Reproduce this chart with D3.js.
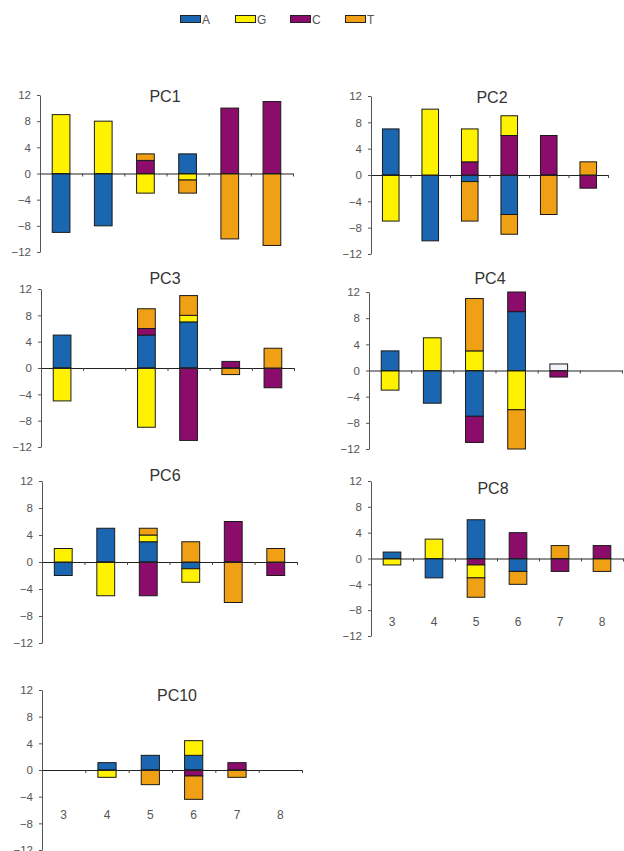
<!DOCTYPE html>
<html>
<head>
<meta charset="utf-8">
<script src="https://cdn.jsdelivr.net/npm/d3@7"></script>
<style>
  body { margin: 0; background: #fff; }
  svg { display: block; font-family: "Liberation Sans", Arial, sans-serif; }
</style>
</head>
<body>
<div id="container"></div>
<script>
const width = 624;
const height = 851;

// categories on the x axis
const categories = ["3", "4", "5", "6", "7", "8"];
const bases = ["A", "G", "C", "T"];          // legend order
const stackOrder = ["A", "C", "G", "T", "N"]; // order the segments pile up in
const yTicks = [-12, -8, -4, 0, 4, 8, 12];

// one row per category, values in [A, G, C, T] order
const pc1 = [[-9, 9, 0, 0], [-8, 8, 0, 0], [0, -3, 2, 1], [3, -1, 0, -2], [0, 0, 10, -10], [0, 0, 11, -11]];
const pc2 = [[7, -7, 0, 0], [-10, 10, 0, 0], [-1, 5, 2, -6], [-6, 3, 6, -3], [0, 0, 6, -6], [0, 0, -2, 2]];
const pc3 = [[5, -5, 0, 0], [0, 0, 0, 0], [5, -9, 1, 3], [7, 1, -11, 3], [0, 0, 1, -1], [0, 0, -3, 3]];
const pc4 = [[3, -3, 0, 0], [-5, 5, 0, 0], [-7, 3, -4, 8], [9, -6, 3, -6], [0, 0, -1, 0], [0, 0, 0, 0]];
const pc6 = [[-2, 2, 0, 0], [5, -5, 0, 0], [3, 1, -5, 1], [-1, -2, 0, 3], [0, 0, 6, -6], [0, 0, -2, 2]];
const pc8 = [[1, -1, 0, 0], [-3, 3, 0, 0], [6, -2, -1, -3], [-2, 0, 4, -2], [0, 0, -2, 2], [0, 0, 2, -2]];
const pc10 = [[0, 0, 0, 0], [1.1, -1.1, 0, 0], [2.2, 0, 0, -2.2], [2.2, 2.2, -0.9, -3.5], [0, 0, 1.1, -1.1], [0, 0, 0, 0]];
// PC4 has one empty (white) box at category 7
const pc4Blank = [0, 0, 0, 0, 1, 0];

const colors = { A: "#1a66b0", G: "#fff200", C: "#8c0c6c", T: "#f0a014", N: "#f4f2f8" };

// where each panel sits on the page
const panels = [
  { title: "PC1", values: pc1, x0: 40, x1: 293, top: 95, bottom: 252, tx: 165, ty: 102 },
  { title: "PC2", values: pc2, x0: 371, x1: 608, top: 96, bottom: 254, tx: 492, ty: 103 },
  { title: "PC3", values: pc3, x0: 41, x1: 294, top: 289, bottom: 447, tx: 165, ty: 284 },
  { title: "PC4", values: pc4, blank: pc4Blank, x0: 369, x1: 622, top: 292, bottom: 449, tx: 490, ty: 284 },
  { title: "PC6", values: pc6, x0: 42, x1: 297, top: 481, bottom: 643, tx: 165, ty: 481 },
  { title: "PC8", values: pc8, x0: 371, x1: 623, top: 481, bottom: 636, tx: 493, ty: 494, labelY: 626 },
  { title: "PC10", values: pc10, x0: 42, x1: 302, top: 690, bottom: 850, tx: 177, ty: 701, labelY: 819 }
];

const svg = d3.select("#container").append("svg")
  .attr("width", width)
  .attr("height", height);

// legend
const legend = svg.append("g").attr("transform", "translate(180,14)");
bases.forEach((b, i) => {
  const g = legend.append("g").attr("transform", `translate(${i * 55},0)`);
  g.append("rect")
    .attr("x", 0.5).attr("y", 1.5)
    .attr("width", 20).attr("height", 7)
    .attr("fill", colors[b])
    .attr("stroke", "#222")
    .attr("stroke-width", 1);
  g.append("text")
    .attr("x", 22).attr("y", 9.5)
    .attr("font-size", 12)
    .attr("fill", "#555")
    .text(b);
});

function drawPanel(p) {
  const g = svg.append("g");

  const x = d3.scaleBand()
    .domain(categories)
    .range([p.x0, p.x1])
    .paddingInner(0.58)
    .paddingOuter(0.29);

  const y = d3.scaleLinear()
    .domain([-12, 12])
    .range([p.bottom, p.top]);

  // rows -> objects for d3.stack
  const rows = p.values.map((v, i) => ({
    cat: categories[i],
    A: v[0], G: v[1], C: v[2], T: v[3],
    N: p.blank ? p.blank[i] : 0
  }));

  const series = d3.stack()
    .keys(stackOrder)
    .offset(d3.stackOffsetDiverging)(rows);

  g.append("g")
    .selectAll("g")
    .data(series)
    .join("g")
    .attr("fill", d => colors[d.key])
    .selectAll("rect")
    .data(d => d.filter(s => s[0] !== s[1]))
    .join("rect")
    .attr("x", d => x(d.data.cat))
    .attr("width", x.bandwidth())
    .attr("y", d => y(Math.max(d[0], d[1])))
    .attr("height", d => Math.abs(y(d[0]) - y(d[1])))
    .attr("stroke", "#1a1a1a")
    .attr("stroke-width", 1);

  // y axis
  const yAxis = g.append("g")
    .attr("transform", `translate(${p.x0},0)`)
    .call(d3.axisLeft(y).tickValues(yTicks).tickSize(3).tickSizeOuter(0).tickPadding(6));
  yAxis.select(".domain").attr("stroke", "#555");
  yAxis.selectAll(".tick line").attr("stroke", "#555");
  yAxis.selectAll("text")
    .attr("font-size", 11.5)
    .attr("font-family", "Liberation Sans, Arial, sans-serif")
    .attr("fill", "#555");

  // zero line with little ticks between the categories
  const xEdges = d3.scaleLinear().domain([0, categories.length]).range([p.x0, p.x1]);
  const xAxis = g.append("g")
    .attr("transform", `translate(0,${y(0)})`)
    .call(d3.axisBottom(xEdges).tickValues(d3.range(1, categories.length + 1)).tickFormat("").tickSize(3).tickSizeOuter(0));
  xAxis.select(".domain").attr("stroke", "#222").attr("stroke-width", 1.2);
  xAxis.selectAll(".tick line").attr("stroke", "#444");

  // category numbers (only on the lower panels)
  if (p.labelY) {
    g.append("g")
      .selectAll("text")
      .data(categories)
      .join("text")
      .attr("x", d => x(d) + x.bandwidth() / 2)
      .attr("y", p.labelY)
      .attr("text-anchor", "middle")
      .attr("font-size", 12)
      .attr("fill", "#555")
      .text(d => d);
  }

  g.append("text")
    .attr("x", p.tx)
    .attr("y", p.ty)
    .attr("text-anchor", "middle")
    .attr("font-size", 16)
    .attr("fill", "#333")
    .text(p.title);
}

panels.forEach(drawPanel);
</script>
</body>
</html>
